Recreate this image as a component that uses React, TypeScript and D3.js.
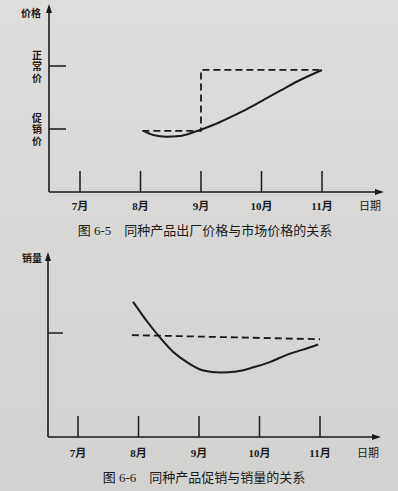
import * as d3 from "d3";
import { useEffect, useRef } from "react";

// x ticks
const months = [7, 8, 9, 10, 11];
const monthLabels = ["7月", "8月", "9月", "10月", "11月"];

// 图 6-5: price (1 = 促销价, 2 = 正常价)
const priceTicks = [1, 2];
const priceTickLabels = [["促", "销", "价"], ["正", "常", "价"]];
const marketPrice: [number, number][] = [
  [8.05, 0.97], [8.21, 0.905], [8.43, 0.878], [8.65, 0.889], [8.9, 0.957],
  [9.2, 1.063], [9.48, 1.186], [9.76, 1.317], [10.03, 1.46], [10.31, 1.608],
  [10.58, 1.75], [11, 1.937],
];
const factoryPrice: [number, number][] = [
  [8.03, 0.97], [9, 0.97], [9, 1.937], [11, 1.937],
];

// 图 6-6: sales (1 = 正常销量)
const salesTicks = [1];
const promoSales: [number, number][] = [
  [7.91, 1.3], [8.13, 1.12], [8.35, 0.96], [8.57, 0.82], [8.8, 0.72],
  [9.07, 0.64], [9.35, 0.62], [9.62, 0.63], [9.9, 0.67], [10.17, 0.72],
  [10.45, 0.79], [10.72, 0.84], [10.97, 0.89],
];
const normalSales: [number, number][] = [
  [7.89, 0.98], [11, 0.94],
];

const FONT = "'Liberation Serif', 'Noto Sans CJK SC', serif";

export default function App() {
  const ref = useRef<SVGSVGElement | null>(null);

  useEffect(() => {
    const svg = d3.select(ref.current);
    svg.selectAll("*").remove();

    const defs = svg.append("defs");
    const grad = defs.append("linearGradient").attr("id", "paper")
      .attr("x1", 0).attr("y1", 0).attr("x2", 0).attr("y2", 1);
    grad.append("stop").attr("offset", "0%").attr("stop-color", "#dedddb");
    grad.append("stop").attr("offset", "100%").attr("stop-color", "#d2d2d0");
    svg.append("rect").attr("width", 398).attr("height", 491).attr("fill", "url(#paper)");

    const ink = "#1a1a1a";

    const drawChart = (o: {
      x0: number; x7: number; x11: number; xEnd: number;
      yBase: number; yTop: number; unit: number; tickH: number;
      yTicks: number[]; yTickLen: number;
      yTitle: string; yTitleX: number; yTitleY: number;
      tickLabels?: string[][];
      solid: [number, number][]; dashed: [number, number][];
      labelY: number; dateX: number;
      caption: string; captionX: number; captionY: number;
    }) => {
      const x = d3.scaleLinear().domain([7, 11]).range([o.x7, o.x11]);
      const y = d3.scaleLinear().domain([0, 1]).range([o.yBase, o.yBase - o.unit]);
      const g = svg.append("g");

      // axes
      g.append("line").attr("x1", o.x0).attr("x2", o.x0)
        .attr("y1", o.yBase).attr("y2", o.yTop + 6)
        .attr("stroke", ink).attr("stroke-width", 1.6);
      g.append("path")
        .attr("d", `M${o.x0},${o.yTop} L${o.x0 - 3},${o.yTop + 9} L${o.x0 + 3},${o.yTop + 9} Z`)
        .attr("fill", ink);
      g.append("line").attr("x1", o.x0).attr("x2", o.xEnd - 6)
        .attr("y1", o.yBase).attr("y2", o.yBase)
        .attr("stroke", ink).attr("stroke-width", 1.6);
      g.append("path")
        .attr("d", `M${o.xEnd},${o.yBase} L${o.xEnd - 9},${o.yBase - 3} L${o.xEnd - 9},${o.yBase + 3} Z`)
        .attr("fill", ink);

      // month ticks
      g.selectAll("line.mt").data(months).enter().append("line")
        .attr("class", "mt")
        .attr("x1", (d) => x(d)).attr("x2", (d) => x(d))
        .attr("y1", o.yBase).attr("y2", o.yBase - o.tickH)
        .attr("stroke", ink).attr("stroke-width", 1.5);
      g.selectAll("text.ml").data(months).enter().append("text")
        .attr("class", "ml")
        .attr("x", (d) => x(d)).attr("y", o.labelY)
        .attr("text-anchor", "middle")
        .attr("font-family", FONT).attr("font-size", 11).attr("font-weight", "bold")
        .attr("fill", ink)
        .text((_, i) => monthLabels[i]);
      g.append("text").attr("x", o.dateX).attr("y", o.labelY)
        .attr("font-family", FONT).attr("font-size", 11).attr("fill", ink)
        .text("日期");

      // y ticks
      g.selectAll("line.yt").data(o.yTicks).enter().append("line")
        .attr("class", "yt")
        .attr("x1", o.x0).attr("x2", o.x0 + o.yTickLen)
        .attr("y1", (d) => y(d)).attr("y2", (d) => y(d))
        .attr("stroke", ink).attr("stroke-width", 1.5);
      if (o.tickLabels) {
        o.yTicks.forEach((t, i) => {
          o.tickLabels![i].forEach((ch, j) => {
            g.append("text").attr("x", 37).attr("y", y(t) + (j - 1) * 11.5 + 4)
              .attr("text-anchor", "middle")
              .attr("font-family", FONT).attr("font-size", 10).attr("font-weight", "bold")
              .attr("fill", ink).text(ch);
          });
        });
      }
      g.append("text").attr("x", o.yTitleX).attr("y", o.yTitleY)
        .attr("text-anchor", "middle")
        .attr("font-family", FONT).attr("font-size", 10).attr("font-weight", "bold")
        .attr("fill", ink).text(o.yTitle);

      // lines
      const curve = d3.line<[number, number]>()
        .x((d) => x(d[0])).y((d) => y(d[1]))
        .curve(d3.curveMonotoneX);
      g.append("path").attr("d", curve(o.solid) || "")
        .attr("fill", "none").attr("stroke", ink).attr("stroke-width", 2);
      const poly = d3.line<[number, number]>()
        .x((d) => x(d[0])).y((d) => y(d[1]));
      g.append("path").attr("d", poly(o.dashed) || "")
        .attr("fill", "none").attr("stroke", ink).attr("stroke-width", 1.8)
        .attr("stroke-dasharray", "7,4");

      g.append("text").attr("x", o.captionX).attr("y", o.captionY)
        .attr("text-anchor", "middle")
        .attr("font-family", FONT).attr("font-size", 13)
        .attr("fill", ink).text(o.caption);
    };

    drawChart({
      x0: 49, x7: 80, x11: 322, xEnd: 384, yBase: 192, yTop: 4, unit: 63, tickH: 21,
      yTicks: priceTicks, yTickLen: 17,
      yTitle: "价格", yTitleX: 31, yTitleY: 17,
      tickLabels: priceTickLabels,
      solid: marketPrice, dashed: factoryPrice,
      labelY: 210, dateX: 359,
      caption: "图 6-5　同种产品出厂价格与市场价格的关系", captionX: 205, captionY: 235,
    });

    drawChart({
      x0: 48, x7: 78, x11: 320, xEnd: 381, yBase: 437, yTop: 252, unit: 104, tickH: 21,
      yTicks: salesTicks, yTickLen: 15,
      yTitle: "销量", yTitleX: 32, yTitleY: 262,
      solid: promoSales, dashed: normalSales,
      labelY: 457, dateX: 357,
      caption: "图 6-6　同种产品促销与销量的关系", captionX: 204, captionY: 482,
    });
  }, []);

  return (
    <svg
      ref={ref}
      width={398}
      height={491}
      style={{ position: "absolute", left: 0, top: 0 }}
    ></svg>
  );
}
